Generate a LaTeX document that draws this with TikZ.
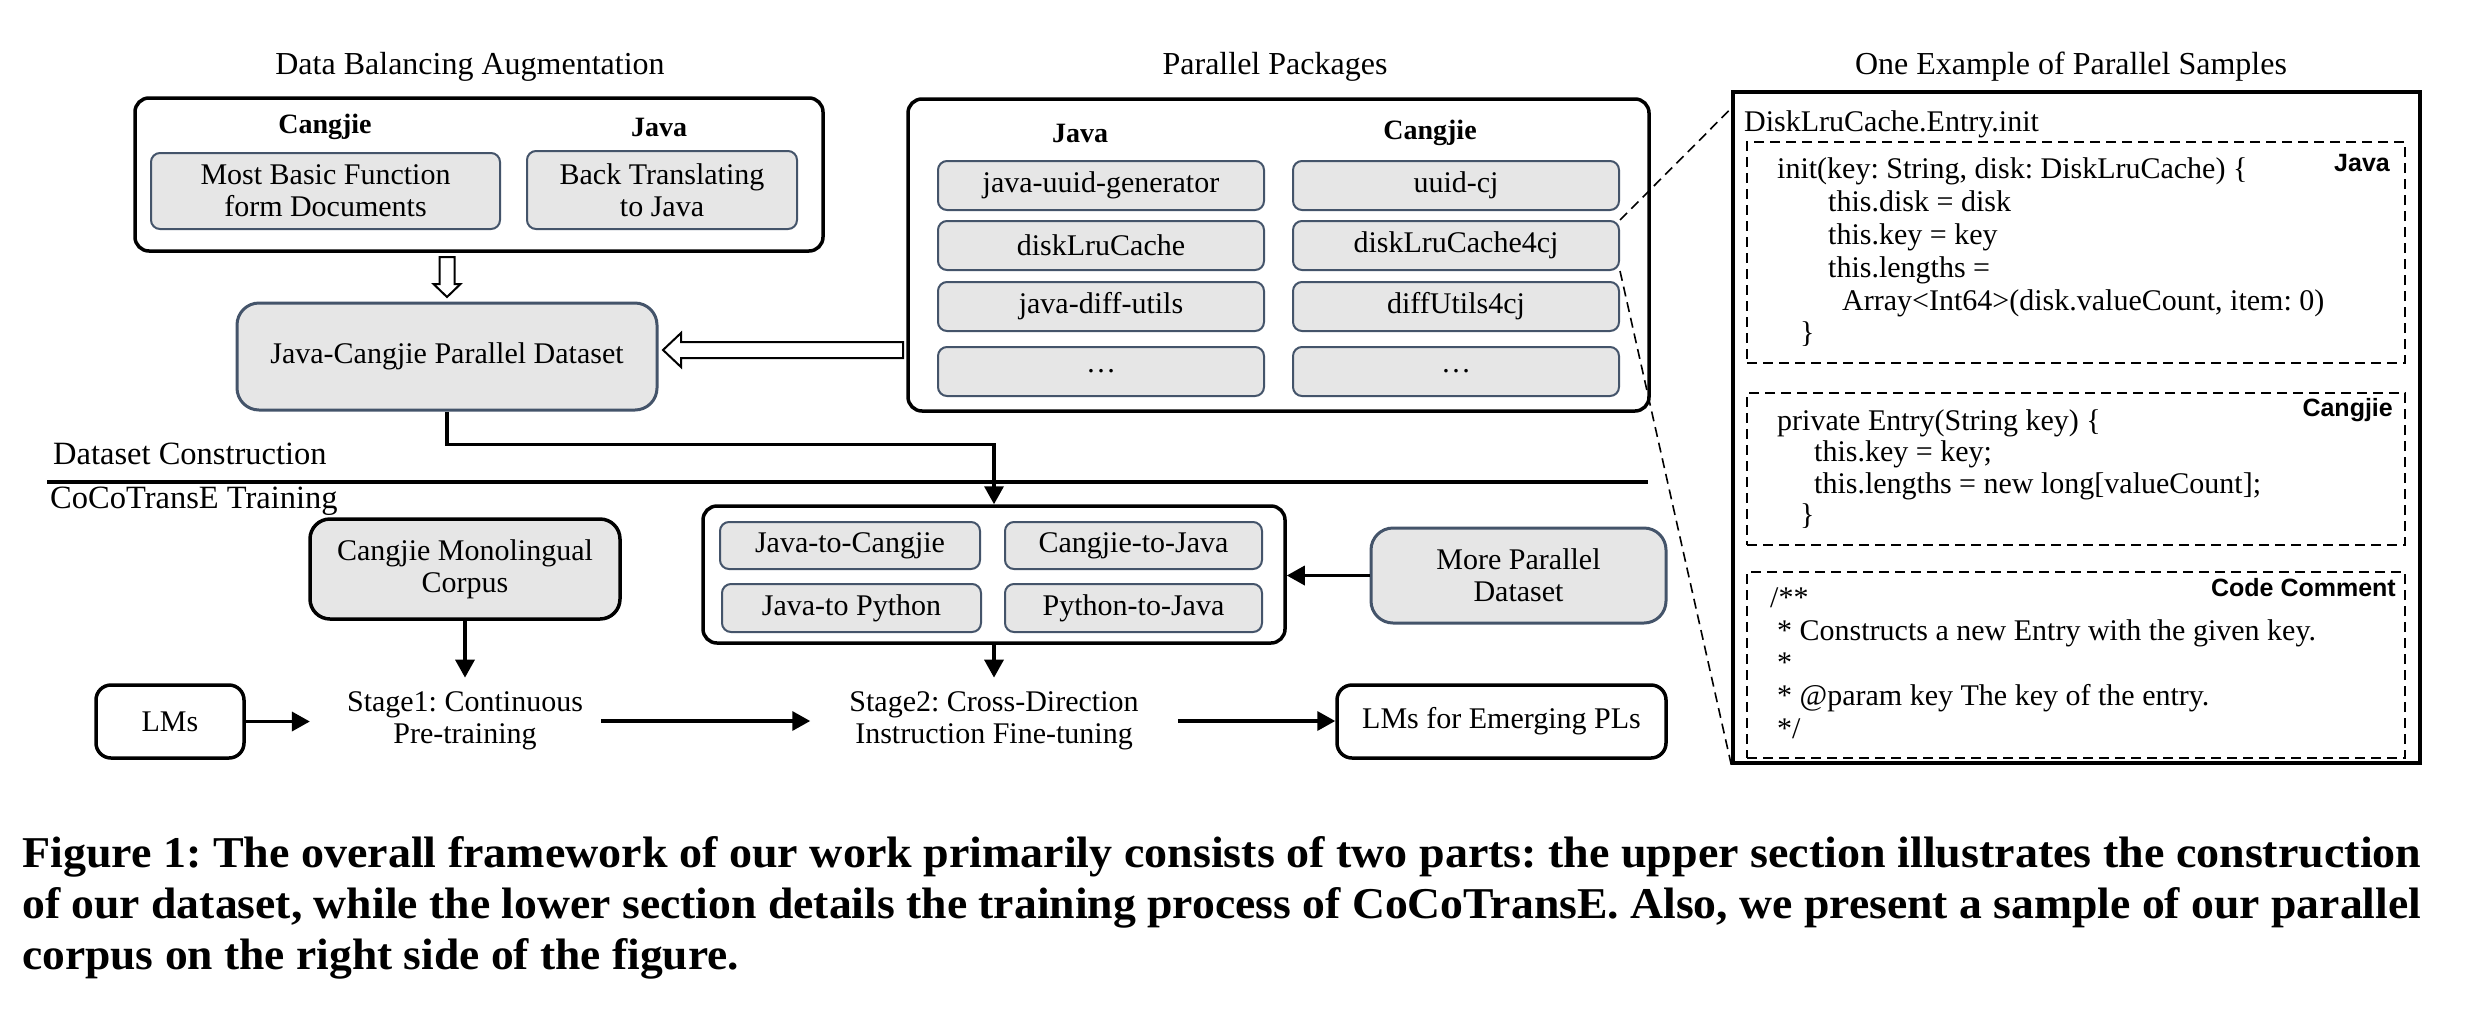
\documentclass[tikz,border=0pt]{standalone}
\usepackage{fontspec}
\setmainfont{Liberation Serif}
\newfontfamily\tagfont{Liberation Sans}
\usetikzlibrary{arrows.meta,calc}
\definecolor{slate}{HTML}{44546A}
\definecolor{boxgray}{HTML}{E6E6E6}
\frenchspacing
\tikzset{
  txt/.style={font=\fontsize{30}{32}\selectfont, inner sep=0pt, align=center},
  ttl/.style={font=\fontsize{32}{34}\selectfont, inner sep=0pt},
  sub/.style={font=\fontsize{28}{30}\selectfont\bfseries, inner sep=0pt},
  tag/.style={font=\fontsize{25}{27}\selectfont\tagfont\bfseries, inner sep=0pt, anchor=east},
  code/.style={font=\fontsize{30}{33}\selectfont, inner sep=0pt, anchor=base west},
  sect/.style={font=\fontsize{32.5}{34}\selectfont, inner sep=0pt, anchor=base west},
  outerbox/.style={draw=black, line width=3.5pt, fill=white, rounded corners=14pt, inner sep=0pt},
  pkgbox/.style={txt, draw=slate, line width=2pt, fill=boxgray, rounded corners=9pt},
  slatebox/.style={txt, draw=slate, line width=3pt, fill=boxgray, rounded corners=22pt},
  blackgray/.style={txt, draw=black, line width=3.5pt, fill=boxgray, rounded corners=20pt},
  whitebox/.style={txt, draw=black, line width=3.5pt, fill=white, rounded corners=15pt},
  dashbox/.style={draw=black, line width=2pt, dash pattern=on 10pt off 6pt, inner sep=0pt},
  arr/.style={line width=3.5pt, -{Triangle[length=18pt,width=19pt]}},
  hollow/.style={draw=black, line width=2pt, fill=white},
  zoomline/.style={line width=1.6pt, dash pattern=on 10pt off 6pt},
  capfont/.style={font=\fontsize{44}{50}\selectfont\bfseries, inner sep=0pt, anchor=base west}
}
\begin{document}
\begin{tikzpicture}[x=1pt, y=-1pt]
\fill[white] (0,0) rectangle (2480,1018);
\useasboundingbox (0,0) rectangle (2480,1018);

% ---------- Data Balancing Augmentation ----------
\node[ttl] (tdba) at (470,67) {Data Balancing Augmentation};
\node[outerbox, minimum width=688pt, minimum height=153pt] (dba) at (479,174.5) {};
\node[sub] (dbacj) at (325,127) {Cangjie};
\node[sub] (dbajv) at (659,127) {Java};
\node[pkgbox, minimum width=349pt, minimum height=76pt] (mbf) at (325.5,191) {Most Basic Function\\form Documents};
\node[pkgbox, minimum width=270pt, minimum height=78pt] (btj) at (662,190) {Back Translating\\to Java};

% hollow down arrow
\draw[hollow] (439.5,257) -- (454.5,257) -- (454.5,284) -- (460.5,284) -- (447,297) -- (433.5,284) -- (439.5,284) -- cycle;

\node[slatebox, minimum width=420pt, minimum height=107pt] (jcpd) at (447,356.5) {Java-Cangjie Parallel Dataset};

% hollow left arrow
\draw[hollow] (903,342) -- (681,342) -- (681,333) -- (663,350) -- (681,367) -- (681,358) -- (903,358) -- cycle;

% ---------- Parallel Packages ----------
\node[ttl] (tpp) at (1275,67) {Parallel Packages};
\node[outerbox, minimum width=741pt, minimum height=312pt] (pp) at (1278.5,255) {};
\node[sub] (ppjv) at (1080,133) {Java};
\node[sub] (ppcj) at (1430,133) {Cangjie};
\node[pkgbox, minimum width=326pt, minimum height=49pt] (p11) at (1101,185.5) {java-uuid-generator};
\node[pkgbox, minimum width=326pt, minimum height=49pt] (p12) at (1456,185.5) {uuid-cj};
\node[pkgbox, minimum width=326pt, minimum height=49pt] (p21) at (1101,245.5) {diskLruCache};
\node[pkgbox, minimum width=326pt, minimum height=49pt] (p22) at (1456,245.5) {diskLruCache4cj};
\node[pkgbox, minimum width=326pt, minimum height=49pt] (p31) at (1101,306.5) {java-diff-utils};
\node[pkgbox, minimum width=326pt, minimum height=49pt] (p32) at (1456,306.5) {diffUtils4cj};
\node[pkgbox, minimum width=326pt, minimum height=49pt] (p41) at (1101,371.5) {…};
\node[pkgbox, minimum width=326pt, minimum height=49pt] (p42) at (1456,371.5) {…};

% ---------- One Example of Parallel Samples ----------
\node[ttl] (tex) at (2071,67) {One Example of Parallel Samples};
\node[draw=black, line width=3.5pt, fill=white, minimum width=687pt, minimum height=671pt, inner sep=0pt] (ex) at (2076.5,427.5) {};
\node[code] (exname) at (1744,131) {DiskLruCache.Entry.init};
\node[dashbox, minimum width=658pt, minimum height=221pt] (jvbox) at (2076,252.5) {};
\node[dashbox, minimum width=658pt, minimum height=152pt] (cjbox) at (2076,469) {};
\node[dashbox, minimum width=658pt, minimum height=186pt] (cmbox) at (2076,665) {};
\node[tag] (jvtag) at (2390,163) {Java};
\node[tag] (cjtag) at (2393,410) {Cangjie};
\node[tag] (cmtag) at (2396,588) {Code Comment};

\node[code] (jv1) at (1777,178) {init(key: String, disk: DiskLruCache) \{};
\node[code] (jv2) at (1828,211) {this.disk = disk};
\node[code] (jv3) at (1828,244) {this.key = key};
\node[code] (jv4) at (1828,277) {this.lengths =};
\node[code] (jv5) at (1842,310) {Array<Int64>(disk.valueCount, item: 0)};
\node[code] (jv6) at (1800,342) {\}};

\node[code] (cj1) at (1777,430) {private Entry(String key) \{};
\node[code] (cj2) at (1814,461.5) {this.key = key;};
\node[code] (cj3) at (1814,493) {this.lengths = new long[valueCount];};
\node[code] (cj4) at (1800,524.5) {\}};

\node[code] (cm1) at (1770,607) {/**};
\node[code] (cm2) at (1777,640) {* Constructs a new Entry with the given key.};
\node[code] (cm3) at (1777,672) {*};
\node[code] (cm4) at (1777,705) {* @param key The key of the entry.};
\node[code] (cm5) at (1777,738) {*/};

% zoom connectors
\draw[zoomline] (p22.north east) -- ($(ex.north west)+(0,18)$);
\draw[zoomline] (p22.south east) -- (ex.south west);

% ---------- section separator ----------
\node[sect] (dclab) at (53,464) {Dataset Construction};
\coordinate (sepL) at (47,482);
\coordinate (sepR) at (1648,482);
\draw[line width=3.5pt] (sepL) -- (sepR);
\node[sect] (trlab) at (50,508) {CoCoTransE Training};

% ---------- Training ----------
\node[blackgray, minimum width=310pt, minimum height=100pt] (cmc) at (465,569) {Cangjie Monolingual\\Corpus};
\node[outerbox, minimum width=582pt, minimum height=137pt] (ins) at (994,574.5) {};
\node[pkgbox, minimum width=260pt, minimum height=47pt] (jtc) at (850,545.5) {Java-to-Cangjie};
\node[pkgbox, minimum width=257pt, minimum height=47pt] (ctj) at (1133.5,545.5) {Cangjie-to-Java};
\node[pkgbox, minimum width=259pt, minimum height=48pt] (jtp) at (851.5,608) {Java-to Python};
\node[pkgbox, minimum width=257pt, minimum height=48pt] (ptj) at (1133.5,608) {Python-to-Java};
\node[slatebox, minimum width=295pt, minimum height=95pt] (mpd) at (1518.5,575.5) {More Parallel\\Dataset};

\node[whitebox, minimum width=148pt, minimum height=73pt] (lms) at (170,721.5) {LMs};
\node[txt, inner xsep=18pt, inner ysep=14pt] (stage1) at (465,721) {Stage1: Continuous\\Pre-training};
\node[txt, inner xsep=39pt, inner ysep=14pt] (stage2) at (994,721) {Stage2: Cross-Direction\\Instruction Fine-tuning};
\node[whitebox, minimum width=329pt, minimum height=73pt] (lmsep) at (1501.5,721.5) {LMs for Emerging PLs};

\draw[arr] (jcpd.south) -- ++(0,33) -| (ins.north);
\draw[arr] (mpd.west) -- (mpd.west -| ins.east);
\draw[arr] (cmc.south) -- (stage1.north);
\draw[arr] (ins.south) -- (stage2.north);
\draw[arr, shorten >=19pt] (lms.east) -- (lms.east -| stage1.west);
\draw[arr] (stage1.east) -- (stage1.east -| stage2.west);
\draw[arr] (stage2.east) -- (stage2.east -| lmsep.west);

% ---------- caption ----------
\node[capfont] (cap1) at (22,867) {\resizebox{2399pt}{\height}{Figure 1: The overall framework of our work primarily consists of two parts: the upper section illustrates the construction}};
\node[capfont] (cap2) at (22,918) {\resizebox{2399pt}{\height}{of our dataset, while the lower section details the training process of CoCoTransE. Also, we present a sample of our parallel}};
\node[capfont] (cap3) at (22,969) {\resizebox{717pt}{\height}{corpus on the right side of the figure.}};
\end{tikzpicture}
\end{document}
